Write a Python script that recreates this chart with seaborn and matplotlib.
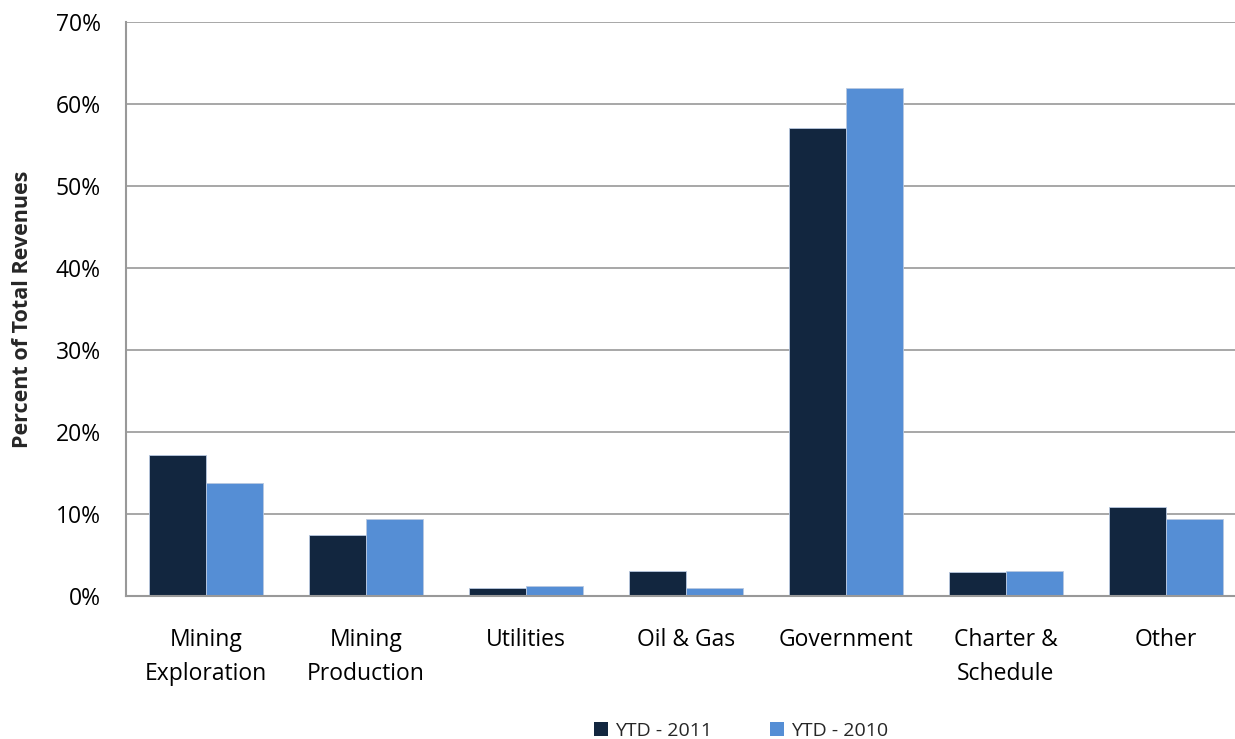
import matplotlib
matplotlib.use("Agg")
import matplotlib.pyplot as plt
import seaborn as sns
import pandas as pd
from matplotlib.patches import Patch
from matplotlib.ticker import FuncFormatter

categories = ["Mining\nExploration", "Mining\nProduction", "Utilities", "Oil & Gas",
              "Government", "Charter &\nSchedule", "Other"]
ytd_2011 = [17.2, 7.5, 1.0, 3.1, 57.1, 2.9, 10.9]
ytd_2010 = [13.8, 9.4, 1.2, 1.0, 62.0, 3.1, 9.4]
series_names = ["YTD - 2011", "YTD - 2010"]
colors = ["#12263F", "#558ED5"]

df = pd.DataFrame({
    "Category": categories * 2,
    "Series": [series_names[0]] * len(categories) + [series_names[1]] * len(categories),
    "Value": ytd_2011 + ytd_2010,
})

sns.set_theme(style="white")
plt.rcParams["font.family"] = ["Open Sans", "DejaVu Sans"]

fig = plt.figure(figsize=(12.35, 7.39), dpi=100)
ax = fig.add_axes([126 / 1235, 1 - 596 / 739, 1 - 126 / 1235, (596 - 22) / 739])

sns.barplot(data=df, x="Category", y="Value", hue="Series", palette=colors,
            width=0.715, ax=ax, legend=False, edgecolor="#B8C8E0", linewidth=0.6,
            saturation=1)

ax.set_xlim(-0.5, (1235 - 126) / 160 - 0.5)
ax.set_ylim(0, 70)
ax.set_yticks(range(0, 71, 10))
ax.yaxis.set_major_formatter(FuncFormatter(lambda v, p: f"{int(v)}%"))
ax.grid(axis="y", color="#A0A0A0", linewidth=1.3)
ax.set_axisbelow(True)
for s in ["top", "right"]:
    ax.spines[s].set_visible(False)
for s in ["left", "bottom"]:
    ax.spines[s].set_color("#999999")
    ax.spines[s].set_linewidth(1.5)

ax.tick_params(axis="y", length=0, pad=18, labelsize=16.5, labelcolor="#000000")
ax.tick_params(axis="x", length=0, pad=23, labelsize=16.5, labelcolor="#000000")
for lbl in ax.get_xticklabels():
    lbl.set_linespacing(1.55)

ax.set_xlabel("")
ax.set_ylabel("Percent of Total Revenues", fontsize=15.5, fontweight="bold")
ax.yaxis.set_label_coords(-0.084, 0.5)

handles = [Patch(facecolor=c, edgecolor="none") for c in colors]
fig.legend(handles, series_names, loc="center", bbox_to_anchor=(741 / 1235, 1 - 731 / 739),
           ncol=2, frameon=False, fontsize=14, handlelength=0.7, handleheight=0.7,
           handletextpad=0.35, columnspacing=3.0)

fig.savefig("out.png", dpi=100)
